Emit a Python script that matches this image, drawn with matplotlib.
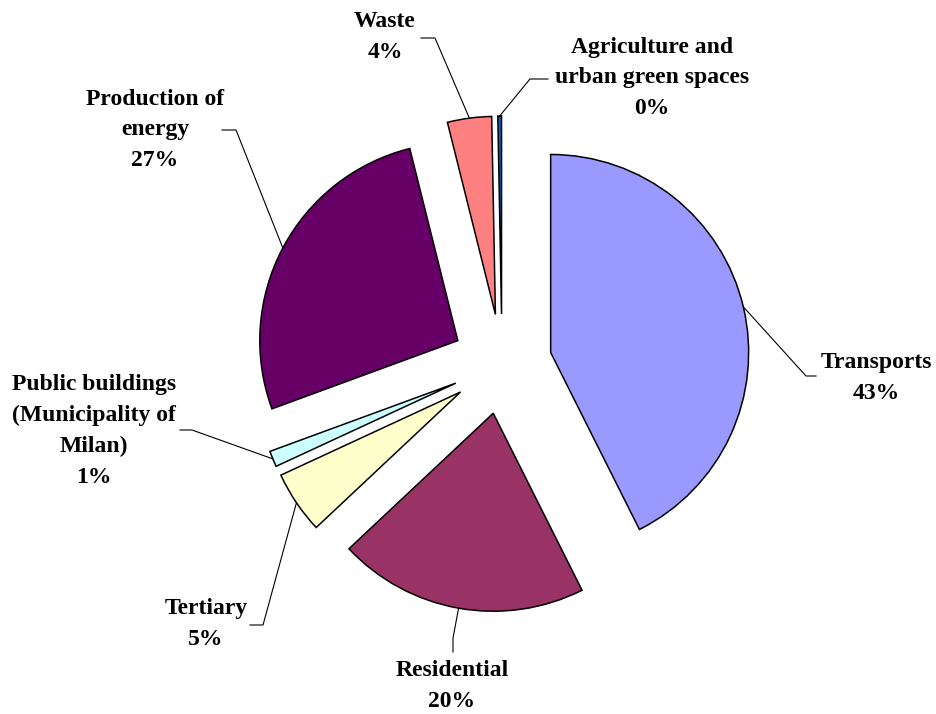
import numpy as np
import matplotlib.pyplot as plt

# Emission shares by sector (%)
sectors = ['Transports', 'Residential', 'Tertiary',
           'Public buildings\n(Municipality of\nMilan)',
           'Production of\nenergy', 'Waste',
           'Agriculture and\nurban green spaces']
shares = [42.6, 20.4, 5.1, 1.3, 26.7, 3.6, 0.3]
colors = ['#9999FF', '#993366', '#FFFFCC', '#CCFFFF',
          '#660066', '#FF8080', '#0066CC']

# label text centre, leader elbow and leader end (pixel coordinates)
label_pos = [(876, 378), (452, 686), (206, 624), (94, 431),
             (155, 130), (385, 37), (652, 78)]
elbows = [(806, 376), (453, 638), (263, 625), (192, 430),
          (236, 130), (435, 38), (530, 79)]
ends = [(816, 376), (453, 652), (250, 625), (180, 430),
        (222, 130), (421, 38), (548, 79)]

plt.rcParams['font.family'] = ['Liberation Serif', 'DejaVu Serif']

fig = plt.figure(figsize=(9.36, 7.14), dpi=100)
ax = fig.add_axes([0, 0, 1, 1])

# y axis runs downward, so counter-clockwise in data is clockwise on screen
wedges, _ = ax.pie(shares, colors=colors, center=(502, 364), radius=198,
                   startangle=-90, counterclock=True,
                   explode=[50] * len(shares),
                   wedgeprops=dict(edgecolor='black', linewidth=1.1))
ax.set_xlim(0, 936)
ax.set_ylim(714, 0)
ax.set_aspect('auto')
ax.axis('off')

for w, name, v, tp, el, en in zip(wedges, sectors, shares, label_pos, elbows, ends):
    mid = np.deg2rad((w.theta1 + w.theta2) / 2)
    x0 = w.center[0] + w.r * np.cos(mid)
    y0 = w.center[1] + w.r * np.sin(mid)
    ax.plot([x0, el[0], en[0]], [y0, el[1], en[1]], color='black', lw=0.8)
    ax.text(tp[0], tp[1], f'{name}\n{v:.0f}%', ha='center', va='center',
            fontsize=17, fontweight='bold', linespacing=1.6)

fig.savefig('out.png', dpi=100)
